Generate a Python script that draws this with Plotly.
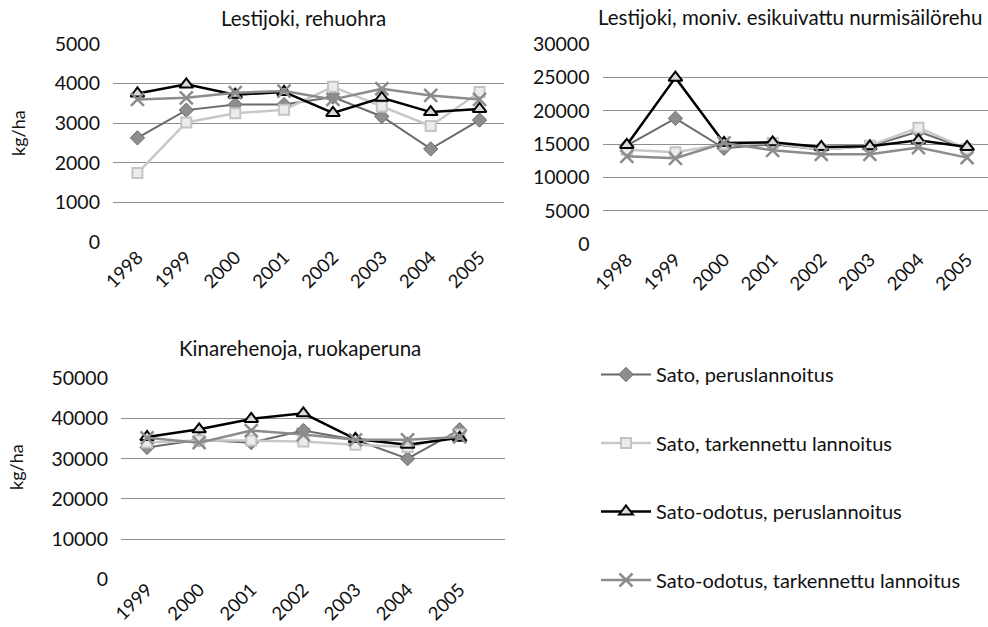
import plotly.graph_objects as go

# Years per site
years_lesti = ["1998", "1999", "2000", "2001", "2002", "2003", "2004", "2005"]
years_kinare = ["1999", "2000", "2001", "2002", "2003", "2004", "2005"]

series_names = [
    "Sato, peruslannoitus",
    "Sato, tarkennettu lannoitus",
    "Sato-odotus, peruslannoitus",
    "Sato-odotus, tarkennettu lannoitus",
]

# Lestijoki, rehuohra (kg/ha)
ohra_sato_perus = [2630, 3330, 3470, 3470, 3660, 3170, 2350, 3080]
ohra_sato_tark = [1740, 3020, 3250, 3340, 3920, 3420, 2930, 3790]
ohra_odotus_perus = [3750, 3980, 3720, 3790, 3260, 3640, 3280, 3360]
ohra_odotus_tark = [3600, 3640, 3770, 3810, 3600, 3870, 3700, 3600]

# Lestijoki, moniv. esikuivattu nurmisäilörehu (kg/ha)
nurmi_sato_perus = [14800, 18900, 14400, 15000, 14200, 14700, 16900, 14300]
nurmi_sato_tark = [14200, 13800, 15000, 15200, 14200, 14800, 17500, 14300]
nurmi_odotus_perus = [14900, 25000, 15200, 15300, 14600, 14700, 15600, 14600]
nurmi_odotus_tark = [13200, 12900, 15200, 14100, 13500, 13500, 14500, 13000]

# Kinarehenoja, ruokaperuna (kg/ha)
peruna_sato_perus = [32800, 34700, 34000, 37000, 34700, 30000, 37200]
peruna_sato_tark = [34000, 34500, 34500, 34300, 33500, 32900, 36000]
peruna_odotus_perus = [35400, 37300, 39900, 41300, 34900, 33500, 35200]
peruna_odotus_tark = [35200, 34000, 37000, 36000, 34700, 34700, 35400]

panel_titles = [
    "Lestijoki, rehuohra",
    "Lestijoki, moniv. esikuivattu nurmisäilörehu",
    "Kinarehenoja, ruokaperuna",
]

FONT = "Lato"
W, H = 988, 627

styles = [
    dict(line=dict(color="#6b6b6b", width=2),
         marker=dict(symbol="diamond", size=11, color="#8e8e8e",
                     line=dict(color="#6b6b6b", width=1))),
    dict(line=dict(color="#c8c8c8", width=2.5),
         marker=dict(symbol="square", size=10, color="#ececec",
                     line=dict(color="#c4c4c4", width=2))),
    dict(line=dict(color="#000000", width=2.5),
         marker=dict(symbol="triangle-up", size=12, color="#dadada",
                     line=dict(color="#000000", width=2))),
    dict(line=dict(color="#8c8c8c", width=2.5),
         marker=dict(symbol="x-thin", size=13,
                     line=dict(color="#8c8c8c", width=2.5))),
]

panels = [
    ("x", "y", years_lesti,
     [ohra_sato_perus, ohra_sato_tark, ohra_odotus_perus, ohra_odotus_tark]),
    ("x2", "y2", years_lesti,
     [nurmi_sato_perus, nurmi_sato_tark, nurmi_odotus_perus, nurmi_odotus_tark]),
    ("x3", "y3", years_kinare,
     [peruna_sato_perus, peruna_sato_tark, peruna_odotus_perus, peruna_odotus_tark]),
]

fig = go.Figure()
for p, (xa, ya, cats, data) in enumerate(panels):
    for i, (name, vals) in enumerate(zip(series_names, data)):
        fig.add_trace(go.Scatter(
            x=cats, y=vals, name=name, mode="lines+markers",
            xaxis=xa, yaxis=ya, line=styles[i]["line"],
            marker=styles[i]["marker"], legendgroup=name,
            showlegend=(p == 0), cliponaxis=False,
        ))


def px_x(v):
    return v / W


def px_y(v):
    return 1 - v / H


grid = "#8f8f8f"
TXT = "#111111"
ytickfont = dict(family=FONT, size=19.5, color=TXT)
xtickfont = dict(family=FONT, size=18.5, color=TXT)

common_x = dict(type="category", tickangle=-45, tickfont=xtickfont,
                showgrid=False, zeroline=False, showline=False,
                ticks="", automargin=False, fixedrange=True)
common_y = dict(tickfont=ytickfont, showgrid=True, gridcolor=grid,
                gridwidth=1, zeroline=False, showline=False, ticks="",
                tickformat="d", ticklabelstandoff=12, automargin=False,
                fixedrange=True)

fig.update_layout(
    width=W, height=H,
    margin=dict(l=0, r=0, t=0, b=0, autoexpand=False),
    paper_bgcolor="white", plot_bgcolor="white",
    font=dict(family=FONT, size=19, color=TXT),
    xaxis=dict(common_x, domain=[px_x(113), px_x(504)], range=[-0.5, 7.5],
               anchor="y"),
    yaxis=dict(common_y, domain=[px_y(242), px_y(44)], range=[0, 5000],
               dtick=1000, anchor="x"),
    xaxis2=dict(common_x, domain=[px_x(602.5), 1], range=[-0.5, 7.43],
                anchor="y2"),
    yaxis2=dict(common_y, domain=[px_y(244.3), px_y(44.3)], range=[0, 30000],
                dtick=5000, anchor="x2"),
    xaxis3=dict(common_x, domain=[px_x(121), px_x(505)], range=[-0.5, 6.87],
                ticklabelstandoff=-5, anchor="y3"),
    yaxis3=dict(common_y, domain=[px_y(579.3), px_y(378.3)], range=[0, 50000],
                dtick=10000, anchor="x3"),
    legend=dict(x=px_x(596), y=px_y(355), xanchor="left", yanchor="top",
                font=dict(family=FONT, size=20, color=TXT),
                itemwidth=50, tracegroupgap=39.5, bgcolor="rgba(0,0,0,0)"),
    showlegend=True,
)

# Panel titles
for title, cx, cy in [(panel_titles[0], 303, 18),
                      (panel_titles[1], 790, 17),
                      (panel_titles[2], 300, 348)]:
    fig.add_annotation(text=title, x=px_x(cx), y=px_y(cy), xref="paper",
                       yref="paper", showarrow=False, xanchor="center",
                       yanchor="middle",
                       font=dict(family=FONT, size=20.5, color=TXT))

# Y axis titles
for cx, cy in [(18, 133), (16, 467)]:
    fig.add_annotation(text="kg/ha", x=px_x(cx), y=px_y(cy), xref="paper",
                       yref="paper", showarrow=False, textangle=-90,
                       xanchor="center", yanchor="middle",
                       font=dict(family=FONT, size=18, color=TXT))

fig.write_html("out.html")
